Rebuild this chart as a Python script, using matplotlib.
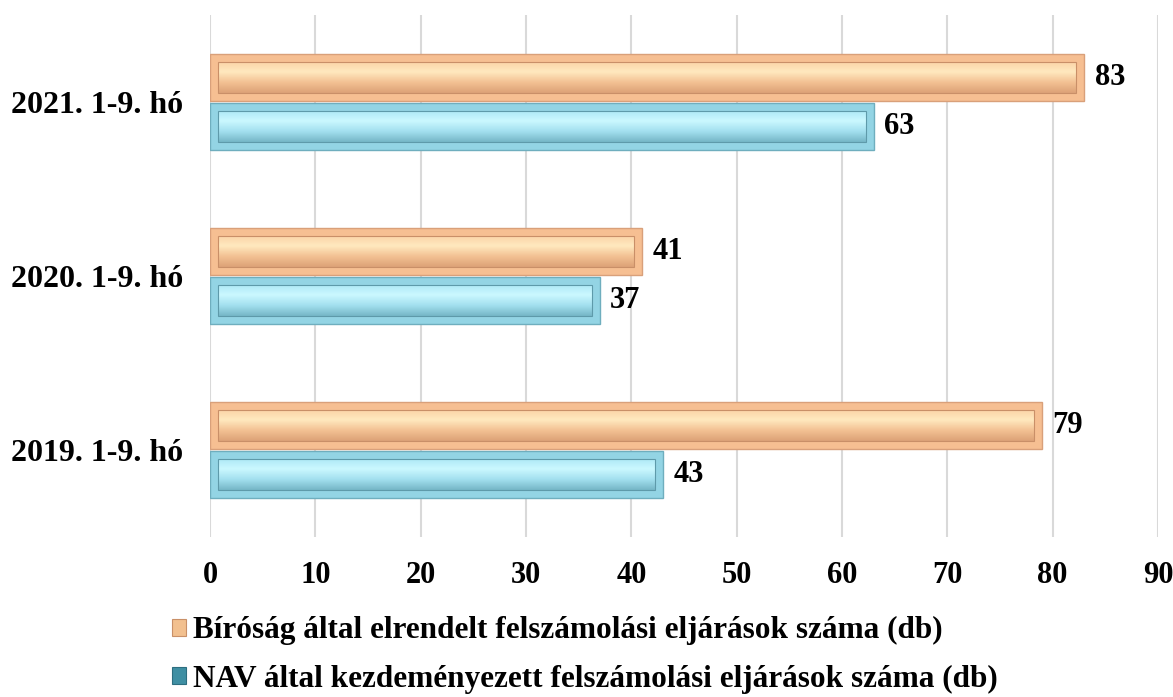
import numpy as np
import matplotlib
matplotlib.use("Agg")
import matplotlib.pyplot as plt
from matplotlib.patches import Rectangle
from matplotlib.colors import LinearSegmentedColormap

categories = ['2019. 1-9. hó', '2020. 1-9. hó', '2021. 1-9. hó']
birosag = [79, 41, 83]
nav = [43, 37, 63]
series_labels = ['Bíróság által elrendelt felszámolási eljárások száma (db)',
                 'NAV által kezdeményezett felszámolási eljárások száma (db)']
xticks = list(range(0, 91, 10))

plt.rcParams['font.family'] = ['Liberation Serif', 'DejaVu Serif']
plt.rcParams['font.weight'] = 'bold'

W, H = 1173, 697
fig = plt.figure(figsize=(W / 100, H / 100), dpi=100)
ax = fig.add_axes([210 / W, 1 - 537 / H, 948 / W, 522 / H])

y = np.arange(len(categories))
h = 0.27
off = 0.14

styles = {
    'orange': dict(frame='#F6BF92', edge='#D9A07A', inner_edge='#C98F68',
                   grad=['#DDA277', '#F3C193', '#FFE9BF', '#FBD2A6']),
    'blue': dict(frame='#93D4E4', edge='#6FAEBE', inner_edge='#5E9AAA',
                 grad=['#76B7C7', '#A3E0EF', '#CBF8FF', '#ACE8F6']),
}


def bevel_bar(yc, val, st):
    ax.barh(yc, val, height=h, color=st['frame'], edgecolor=st['edge'],
            linewidth=1.0, zorder=3)
    ix = 0.75
    iy = 0.045
    x0, x1 = ix, val - ix
    y0, y1 = yc - h / 2 + iy, yc + h / 2 - iy
    rect = Rectangle((x0, y0), x1 - x0, y1 - y0, facecolor='none',
                     edgecolor=st['inner_edge'], linewidth=0.8, zorder=5)
    ax.add_patch(rect)
    cmap = LinearSegmentedColormap.from_list('g', st['grad'])
    grad = np.linspace(0, 1, 64).reshape(-1, 1)
    im = ax.imshow(grad, cmap=cmap, origin='lower', aspect='auto',
                   extent=(x0, x1, y0, y1), zorder=4, interpolation='bicubic')
    im.set_clip_path(rect)


for i in range(len(categories)):
    bevel_bar(y[i] + off, birosag[i], styles['orange'])
    bevel_bar(y[i] - off, nav[i], styles['blue'])
    ax.text(birosag[i] + 1.0, y[i] + off, str(birosag[i]), va='center', ha='left',
            fontsize=22, fontweight='bold', color='black', zorder=6)
    ax.text(nav[i] + 1.0, y[i] - off, str(nav[i]), va='center', ha='left',
            fontsize=22, fontweight='bold', color='black', zorder=6)

ax.set_xlim(0, 90)
ax.set_ylim(-0.5, 2.5)
ax.set_xticks(xticks)
ax.set_xticklabels([str(t) for t in xticks], fontsize=22, fontweight='bold')
ax.set_yticks(y)
ax.set_yticklabels(categories, fontsize=23, fontweight='bold')
ax.tick_params(axis='x', length=0, pad=17)
ax.tick_params(axis='y', length=0, pad=19)
ax.grid(axis='x', color='#D9D9D9', linewidth=1.5, zorder=0)
ax.set_axisbelow(True)
for s in ax.spines.values():
    s.set_visible(False)

handles = [Rectangle((0, 0), 1, 1, facecolor='#F2C08F', edgecolor='#C99068', linewidth=0.8),
           Rectangle((0, 0), 1, 1, facecolor='#3F8FA3', edgecolor='#2D6E80', linewidth=0.8)]
fig.legend(handles, series_labels, loc='center left',
           bbox_to_anchor=(159 / W, 1 - 655 / H), frameon=False,
           prop={'weight': 'bold', 'size': 22.5},
           handlelength=0.45, handleheight=0.45, handletextpad=0.25,
           labelspacing=0.62, borderaxespad=0)

fig.savefig('out.png', dpi=100)
